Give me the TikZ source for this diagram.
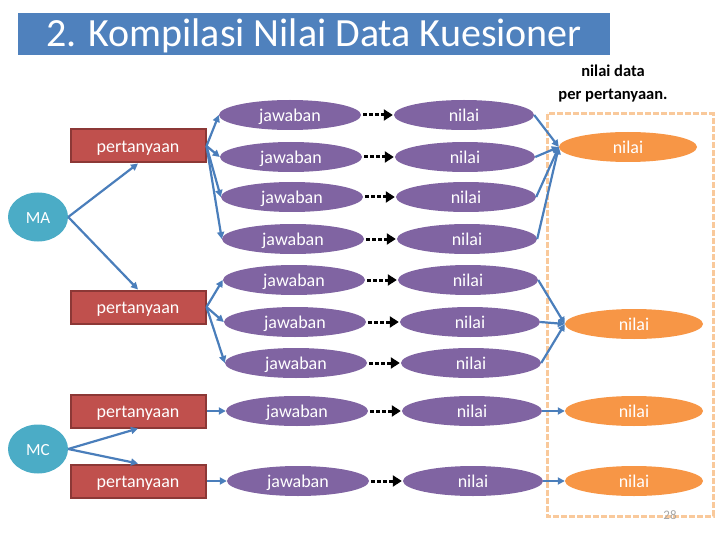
\documentclass[tikz,border=0pt]{standalone}
\usepackage{fontspec}
\setmainfont{Carlito}
\usetikzlibrary{arrows.meta,shapes.geometric}
\definecolor{tblue}{HTML}{4F81BD}
\definecolor{lblue}{HTML}{4A7EBB}
\definecolor{tred}{HTML}{C0504D}
\definecolor{dred}{HTML}{8C3836}
\definecolor{tpurple}{HTML}{8064A2}
\definecolor{torange}{HTML}{F79646}
\definecolor{tcyan}{HTML}{4BACC6}
\definecolor{tpeach}{HTML}{F9C99B}
\tikzset{
  txt/.style={text=white,font=\fontsize{18}{21}\selectfont,text height=14pt,text depth=1pt},
  pq/.style={rectangle,fill=tred,draw=dred,line width=2pt,minimum width=135pt,minimum height=33pt,inner sep=0pt,txt},
  jw/.style={ellipse,fill=tpurple,minimum width=142pt,minimum height=30pt,inner sep=0pt,txt},
  nl/.style={ellipse,fill=tpurple,minimum width=140pt,minimum height=30pt,inner sep=0pt,txt},
  onl/.style={ellipse,fill=torange,minimum width=138pt,minimum height=30pt,inner sep=0pt,txt},
  grp/.style={ellipse,fill=tcyan,minimum width=60pt,minimum height=49pt,inner sep=0pt,text=white,font=\fontsize{17}{20}\selectfont,text height=13pt,text depth=1pt},
  conn/.style={draw=lblue,line width=2.2pt,-{Triangle[length=7pt,width=7pt]}},
  dots/.style={draw=black,line width=3pt,dash pattern=on 4pt off 2pt,-{Triangle[length=9pt,width=11pt]},shorten <=2pt,shorten >=1pt}
}
\begin{document}
\begin{tikzpicture}[x=1pt,y=-1pt]
\useasboundingbox (0,0) rectangle (720,540);
% title
\fill[tblue] (18,13) rectangle (610,55);
\node[text=white,font=\fontsize{40}{44}\selectfont,anchor=base] (title) at (314,47) {2. Kompilasi Nilai Data Kuesioner};
\node[font=\bfseries\fontsize{16.5}{23}\selectfont,align=center] (hdr) at (613,84) {nilai data\\per pertanyaan.};
% dashed box
\draw[tpeach,line width=3pt,dash pattern=on 6pt off 2pt] (547,114) rectangle (713,516);
\node[text=gray!70,font=\fontsize{13}{15}\selectfont] (pg) at (670,515) {28};
% groups
\node[grp] (MA) at (38,217) {MA};
\node[grp] (MC) at (38,449) {MC};
% questions
\node[pq] (p1) at (138,146) {pertanyaan};
\node[pq] (p2) at (138,307) {pertanyaan};
\node[pq] (p3) at (138,411) {pertanyaan};
\node[pq] (p4) at (138,481) {pertanyaan};
% answers
\node[jw] (j1) at (290,115) {jawaban};
\node[jw] (j2) at (291,157) {jawaban};
\node[jw] (j3) at (292,197) {jawaban};
\node[jw] (j4) at (293,239) {jawaban};
\node[jw] (j5) at (294,280) {jawaban};
\node[jw] (j6) at (295,322) {jawaban};
\node[jw] (j7) at (296,363) {jawaban};
\node[jw] (j8) at (297,411) {jawaban};
\node[jw] (j9) at (298,481) {jawaban};
% values
\node[nl] (n1) at (464,115) {nilai};
\node[nl] (n2) at (465,157) {nilai};
\node[nl] (n3) at (466,197) {nilai};
\node[nl] (n4) at (467,239) {nilai};
\node[nl] (n5) at (468,280) {nilai};
\node[nl] (n6) at (470,322) {nilai};
\node[nl] (n7) at (471,363) {nilai};
\node[nl] (n8) at (472,411) {nilai};
\node[nl] (n9) at (473,481) {nilai};
% orange
\node[onl] (o1) at (628,147) {nilai};
\node[onl] (o2) at (634,324) {nilai};
\node[onl] (o3) at (634,411) {nilai};
\node[onl] (o4) at (634,481) {nilai};
% connectors
\draw[conn] (MA.east) -- (p1.south);
\draw[conn] (MA.east) -- (p2.north);
\draw[conn] (MC.east) -- (p3.south);
\draw[conn] (MC.east) -- (p4.north);
\foreach \j in {j1,j2,j3,j4} \draw[conn] (p1.east) -- (\j.west);
\foreach \j in {j5,j6,j7} \draw[conn] (p2.east) -- (\j.west);
\draw[conn] (p3.east) -- (j8.west);
\draw[conn] (p4.east) -- (j9.west);
\foreach \i in {1,...,9} \draw[dots] (j\i.east) -- (n\i.west);
\foreach \n in {n1,n2,n3,n4} \draw[conn] (\n.east) -- (o1.west);
\foreach \n in {n5,n6,n7} \draw[conn] (\n.east) -- (o2.west);
\draw[conn] (n8.east) -- (o3.west);
\draw[conn] (n9.east) -- (o4.west);
\end{tikzpicture}
\end{document}
